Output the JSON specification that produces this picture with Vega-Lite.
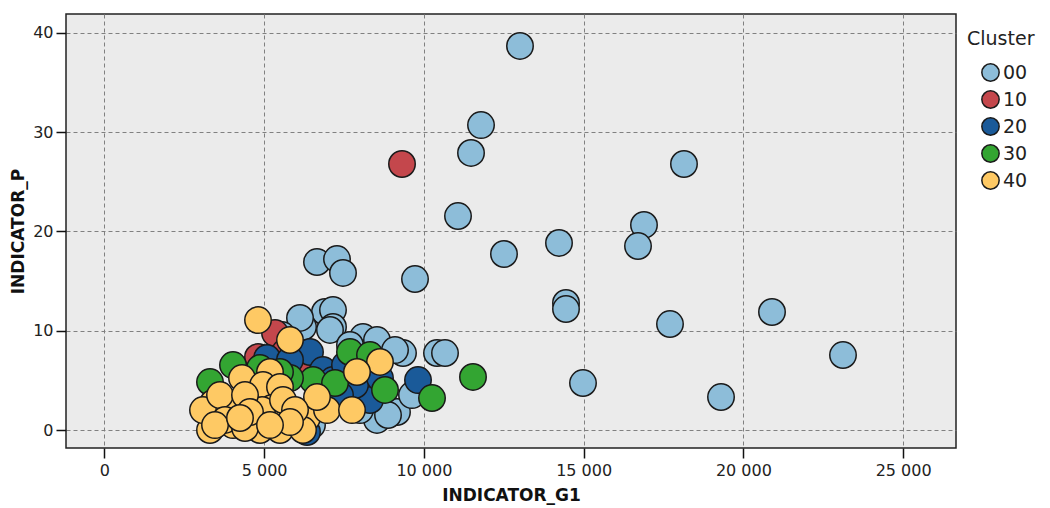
{
  "$schema": "https://vega.github.io/schema/vega-lite/v6.json",
  "width": 890,
  "height": 434,
  "autosize": "none",
  "padding": {"left": 66, "top": 14, "right": 94, "bottom": 60},
  "background": "white",
  "config": {
    "view": {"fill": "#ebebeb", "stroke": "#222222", "strokeWidth": 1.5},
    "font": "DejaVu Sans"
  },
  "data": {
    "values": [
      {"g1": 13008, "p": 38.66, "Cluster": "00"},
      {"g1": 11788, "p": 30.70, "Cluster": "00"},
      {"g1": 11475, "p": 27.89, "Cluster": "00"},
      {"g1": 18141, "p": 26.78, "Cluster": "00"},
      {"g1": 11068, "p": 21.54, "Cluster": "00"},
      {"g1": 16889, "p": 20.64, "Cluster": "00"},
      {"g1": 16702, "p": 18.52, "Cluster": "00"},
      {"g1": 14229, "p": 18.83, "Cluster": "00"},
      {"g1": 12507, "p": 17.72, "Cluster": "00"},
      {"g1": 9722, "p": 15.20, "Cluster": "00"},
      {"g1": 14448, "p": 12.79, "Cluster": "00"},
      {"g1": 14448, "p": 12.18, "Cluster": "00"},
      {"g1": 17703, "p": 10.67, "Cluster": "00"},
      {"g1": 20896, "p": 11.88, "Cluster": "00"},
      {"g1": 23118, "p": 7.55, "Cluster": "00"},
      {"g1": 14980, "p": 4.73, "Cluster": "00"},
      {"g1": 19300, "p": 3.32, "Cluster": "00"},
      {"g1": 6654, "p": 16.91, "Cluster": "00"},
      {"g1": 7280, "p": 17.21, "Cluster": "00"},
      {"g1": 7468, "p": 15.81, "Cluster": "00"},
      {"g1": 6905, "p": 11.88, "Cluster": "00"},
      {"g1": 7155, "p": 12.08, "Cluster": "00"},
      {"g1": 7155, "p": 10.37, "Cluster": "00"},
      {"g1": 10410, "p": 7.75, "Cluster": "00"},
      {"g1": 10661, "p": 7.75, "Cluster": "00"},
      {"g1": 9346, "p": 7.75, "Cluster": "00"},
      {"g1": 8094, "p": 9.36, "Cluster": "00"},
      {"g1": 8532, "p": 9.06, "Cluster": "00"},
      {"g1": 9158, "p": 1.81, "Cluster": "00"},
      {"g1": 8532, "p": 1.01, "Cluster": "00"},
      {"g1": 6216, "p": 10.37, "Cluster": "00"},
      {"g1": 6122, "p": 11.28, "Cluster": "00"},
      {"g1": 7061, "p": 10.07, "Cluster": "00"},
      {"g1": 7687, "p": 8.56, "Cluster": "00"},
      {"g1": 8000, "p": 2.01, "Cluster": "00"},
      {"g1": 8877, "p": 1.51, "Cluster": "00"},
      {"g1": 6498, "p": 0.50, "Cluster": "00"},
      {"g1": 5559, "p": 9.56, "Cluster": "00"},
      {"g1": 9096, "p": 8.05, "Cluster": "00"},
      {"g1": 9628, "p": 3.52, "Cluster": "00"},
      {"g1": 9315, "p": 26.78, "Cluster": "10"},
      {"g1": 5340, "p": 9.76, "Cluster": "10"},
      {"g1": 4808, "p": 7.35, "Cluster": "10"},
      {"g1": 5653, "p": 7.85, "Cluster": "10"},
      {"g1": 6122, "p": 6.24, "Cluster": "10"},
      {"g1": 6435, "p": 7.85, "Cluster": "20"},
      {"g1": 5089, "p": 7.25, "Cluster": "20"},
      {"g1": 6842, "p": 6.04, "Cluster": "20"},
      {"g1": 7155, "p": 5.03, "Cluster": "20"},
      {"g1": 8313, "p": 3.02, "Cluster": "20"},
      {"g1": 9816, "p": 5.03, "Cluster": "20"},
      {"g1": 7531, "p": 6.54, "Cluster": "20"},
      {"g1": 7844, "p": 4.53, "Cluster": "20"},
      {"g1": 7374, "p": 3.52, "Cluster": "20"},
      {"g1": 5809, "p": 7.05, "Cluster": "20"},
      {"g1": 6341, "p": -0.20, "Cluster": "20"},
      {"g1": 8626, "p": 5.23, "Cluster": "20"},
      {"g1": 3305, "p": 4.83, "Cluster": "30"},
      {"g1": 4025, "p": 6.54, "Cluster": "30"},
      {"g1": 6529, "p": 5.03, "Cluster": "30"},
      {"g1": 5809, "p": 5.23, "Cluster": "30"},
      {"g1": 7687, "p": 7.85, "Cluster": "30"},
      {"g1": 8783, "p": 4.03, "Cluster": "30"},
      {"g1": 10254, "p": 3.22, "Cluster": "30"},
      {"g1": 11537, "p": 5.34, "Cluster": "30"},
      {"g1": 7218, "p": 4.73, "Cluster": "30"},
      {"g1": 4870, "p": 6.24, "Cluster": "30"},
      {"g1": 5496, "p": 5.84, "Cluster": "30"},
      {"g1": 8313, "p": 7.55, "Cluster": "30"},
      {"g1": 4808, "p": 11.07, "Cluster": "40"},
      {"g1": 5809, "p": 9.06, "Cluster": "40"},
      {"g1": 8626, "p": 6.85, "Cluster": "40"},
      {"g1": 7906, "p": 5.84, "Cluster": "40"},
      {"g1": 4307, "p": 5.23, "Cluster": "40"},
      {"g1": 5183, "p": 5.84, "Cluster": "40"},
      {"g1": 4964, "p": 4.53, "Cluster": "40"},
      {"g1": 5496, "p": 4.33, "Cluster": "40"},
      {"g1": 3399, "p": 2.72, "Cluster": "40"},
      {"g1": 3931, "p": 2.32, "Cluster": "40"},
      {"g1": 3305, "p": 1.71, "Cluster": "40"},
      {"g1": 5246, "p": 2.21, "Cluster": "40"},
      {"g1": 4933, "p": 2.01, "Cluster": "40"},
      {"g1": 4025, "p": 0.50, "Cluster": "40"},
      {"g1": 3305, "p": 0.00, "Cluster": "40"},
      {"g1": 4870, "p": 0.00, "Cluster": "40"},
      {"g1": 5496, "p": 0.00, "Cluster": "40"},
      {"g1": 6341, "p": 1.21, "Cluster": "40"},
      {"g1": 6967, "p": 2.01, "Cluster": "40"},
      {"g1": 5590, "p": 3.02, "Cluster": "40"},
      {"g1": 6654, "p": 3.32, "Cluster": "40"},
      {"g1": 6216, "p": 0.00, "Cluster": "40"},
      {"g1": 3086, "p": 2.01, "Cluster": "40"},
      {"g1": 7750, "p": 2.01, "Cluster": "40"},
      {"g1": 3618, "p": 3.52, "Cluster": "40"},
      {"g1": 4401, "p": 3.52, "Cluster": "40"},
      {"g1": 3775, "p": 1.01, "Cluster": "40"},
      {"g1": 4401, "p": 0.20, "Cluster": "40"},
      {"g1": 5966, "p": 2.01, "Cluster": "40"},
      {"g1": 4557, "p": 1.81, "Cluster": "40"},
      {"g1": 3462, "p": 0.50, "Cluster": "40"},
      {"g1": 4244, "p": 1.21, "Cluster": "40"},
      {"g1": 5809, "p": 0.80, "Cluster": "40"},
      {"g1": 5183, "p": 0.50, "Cluster": "40"}
    ]
  },
  "mark": {"type": "point", "filled": true, "size": 700, "stroke": "#1a1a1a", "strokeWidth": 1.5, "opacity": 1},
  "encoding": {
    "x": {
      "field": "g1", "type": "quantitative",
      "scale": {"domain": [-1202, 26655], "nice": false, "zero": false},
      "axis": {
        "title": "INDICATOR_G1", "values": [0, 5000, 10000, 15000, 20000, 25000],
        "labelExpr": "replace(format(datum.value, ','), ',', ' ')",
        "domain": false, "tickColor": "#111", "tickWidth": 1.5, "tickSize": 10,
        "labelFontSize": 16, "labelColor": "#222", "labelPadding": 4,
        "titleFontSize": 17, "titleFontWeight": "bold", "titleColor": "#111", "titlePadding": 9,
        "gridDash": [4, 3], "gridColor": "#808080", "gridWidth": 1
      }
    },
    "y": {
      "field": "p", "type": "quantitative",
      "scale": {"domain": [-1.81, 41.88], "nice": false, "zero": false},
      "axis": {
        "title": "INDICATOR_P", "values": [0, 10, 20, 30, 40],
        "domain": false, "tickColor": "#111", "tickWidth": 1.5, "tickSize": 10,
        "labelFontSize": 16, "labelColor": "#222", "labelPadding": 3,
        "titleFontSize": 17, "titleFontWeight": "bold", "titleColor": "#111", "titlePadding": 5,
        "gridDash": [4, 3], "gridColor": "#808080", "gridWidth": 1
      }
    },
    "color": {
      "field": "Cluster", "type": "nominal",
      "scale": {"domain": ["00", "10", "20", "30", "40"], "range": ["#8dbdd9", "#c4474c", "#1a5a99", "#33a532", "#fec964"]},
      "legend": {
        "orient": "none", "legendX": 901, "legendY": 16,
        "title": "Cluster", "titleFontSize": 19, "titleFontWeight": "normal", "titleColor": "#222", "titlePadding": 14,
        "labelFontSize": 19, "labelColor": "#222", "symbolSize": 300, "symbolStrokeColor": "#1a1a1a", "symbolStrokeWidth": 1.5,
        "symbolOffset": 14, "rowPadding": 2, "labelOffset": 3
      }
    }
  }
}
